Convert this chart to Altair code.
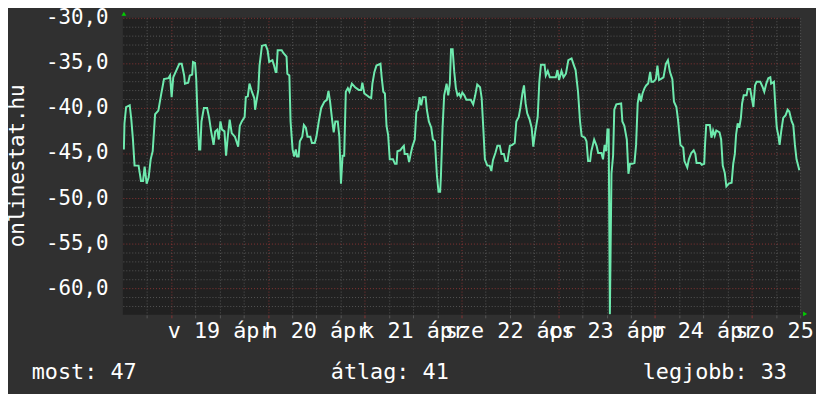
import altair as alt
import pandas as pd

# hours since 2020-04-18 00:00
hours = [
    12.25, 12.4, 12.8, 13.7, 14.1, 14.5, 14.9, 15.9, 16.5, 17.0,
    17.4, 17.9, 18.4, 18.9, 19.4, 20.0, 20.8, 21.5, 22.2, 23.3,
    23.7, 24.1, 24.5, 25.3, 26.0, 26.6, 27.2, 27.4, 28.2, 28.6,
    29.2, 29.4, 29.9, 30.2, 30.5, 30.9, 31.2, 31.5, 32.1, 32.9,
    33.4, 33.9, 34.5, 34.9, 35.4, 35.8, 36.2, 36.6, 37.2, 37.6,
    38.0, 38.5, 39.0, 39.8, 40.6, 41.0, 41.5, 42.2, 42.5, 43.0,
    43.4, 44.0, 44.6, 44.8, 45.2, 45.6, 45.9, 46.5, 47.4, 47.9,
    48.3, 49.1, 49.5, 49.9, 50.1, 50.4, 51.4, 51.8, 52.6, 52.8,
    53.3, 53.6, 54.1, 54.5, 54.9, 55.2, 55.6, 55.9, 56.5, 56.9,
    57.4, 57.8, 58.5, 58.9, 59.6, 60.0, 60.6, 61.2, 62.0, 62.6,
    63.0, 63.4, 63.9, 64.3, 64.7, 65.3, 65.7, 66.1, 66.5, 66.9,
    67.3, 67.8, 68.2, 68.8, 69.6, 70.5, 71.1, 71.4, 71.9, 72.5,
    73.1, 73.6, 73.9, 74.4, 74.9, 75.9, 76.2, 76.6, 77.0, 77.4,
    77.8, 78.2, 79.0, 79.5, 79.9, 80.1, 80.8, 81.3, 81.7, 81.9,
    82.6, 83.0, 83.4, 83.8, 84.4, 84.8, 85.2, 85.6, 86.0, 86.4,
    87.1, 87.4, 87.9, 88.5, 88.9, 89.4, 89.9, 90.3, 90.7, 90.9,
    91.3, 91.7, 92.3, 92.7, 93.1, 93.4, 93.8, 94.2, 94.6, 95.0,
    95.4, 95.8, 96.2, 96.7, 97.2, 98.3, 98.9, 99.4, 99.9, 100.6,
    101.0, 101.4, 101.8, 102.4, 103.0, 103.4, 103.8, 104.4, 104.9, 105.5,
    105.9, 106.5, 106.9, 107.4, 108.0, 108.6, 109.2, 109.6, 110.2, 110.6,
    111.1, 111.5, 111.9, 112.3, 112.9, 113.4, 113.8, 114.3, 114.9, 115.3,
    115.7, 116.6, 116.9, 117.4, 117.9, 119.4, 119.8, 120.2, 120.8, 121.3,
    121.9, 122.5, 123.3, 123.9, 124.3, 124.9, 125.4, 125.8, 126.6, 127.0,
    127.4, 127.9, 128.2, 128.9, 129.5, 129.9, 130.7, 131.1, 131.5, 131.9,
    132.2, 132.5, 132.8, 133.2, 133.6, 133.9, 134.4, 135.6, 135.9, 136.4,
    137.0, 137.4, 137.8, 138.3, 138.9, 139.3, 139.7, 140.1, 140.5, 140.9,
    141.4, 141.8, 142.3, 142.8, 143.1, 143.6, 144.2, 144.6, 145.0, 145.4,
    146.1, 146.7, 147.2, 147.7, 148.3, 148.7, 149.3, 149.7, 150.3, 151.0,
    151.3, 152.0, 152.4, 153.0, 153.6, 154.0, 154.3, 155.2, 155.6, 156.2,
    156.4, 156.7, 157.6, 158.0, 158.4, 158.8, 159.2, 160.0, 160.4, 160.8,
    161.3, 161.7, 162.3, 163.0, 163.4, 163.8, 164.1, 164.5, 164.9, 165.3,
    165.6, 166.0, 166.7, 167.0, 167.6, 168.0, 168.4, 168.8, 169.2, 170.1,
    170.7, 171.1, 171.6, 172.1, 172.6, 172.8, 173.5, 173.8, 174.2, 174.6,
    174.9, 175.3, 175.8, 176.4, 176.9, 177.3, 177.9, 178.3, 178.7, 179.1, 179.8,
]

dbm = [
    -44.6, -41.7, -39.9, -39.7, -41.3, -43.5, -46.4, -46.4, -48.1, -48.1,
    -46.5, -48.4, -47.7, -45.7, -44.8, -40.7, -40.3, -38.5, -36.8, -36.7,
    -36.4, -38.8, -36.6, -35.8, -35.1, -35.1, -36.4, -37.3, -37.2, -36.4,
    -36.3, -34.9, -35.0, -36.8, -40.7, -44.6, -44.6, -41.5, -40.0, -40.0,
    -41.1, -42.6, -44.1, -42.6, -42.4, -43.5, -41.5, -42.4, -42.6, -45.3,
    -43.3, -41.3, -42.8, -43.2, -44.3, -42.0, -41.5, -41.0, -38.8, -38.7,
    -37.3, -38.2, -38.9, -40.2, -39.1, -38.0, -35.3, -33.1, -33.0, -33.6,
    -34.9, -34.7, -35.3, -36.0, -36.0, -33.6, -33.6, -33.9, -34.3, -36.2,
    -36.4, -41.5, -44.6, -45.4, -44.6, -45.4, -45.4, -43.7, -43.2, -41.9,
    -42.2, -43.2, -43.2, -43.9, -43.9, -43.2, -41.5, -40.0, -39.3, -39.1,
    -38.1, -39.3, -41.3, -42.7, -41.5, -41.5, -43.2, -48.4, -45.3, -45.3,
    -38.2, -37.8, -38.2, -37.3, -37.7, -38.0, -38.0, -37.2, -38.4, -38.6,
    -38.8, -38.9, -37.3, -36.0, -35.3, -35.1, -36.6, -38.2, -38.4, -42.0,
    -43.0, -45.7, -45.7, -46.2, -46.2, -44.8, -44.7, -44.4, -44.2, -45.1,
    -45.1, -46.0, -45.1, -44.3, -43.5, -40.4, -40.2, -38.8, -39.7, -38.8,
    -38.8, -40.2, -41.5, -42.2, -43.5, -43.7, -47.5, -49.3, -49.3, -47.5,
    -42.2, -38.6, -37.3, -38.6, -37.3, -33.5, -33.5, -36.0, -37.8, -38.6,
    -38.4, -38.8, -38.3, -38.6, -39.1, -39.1, -39.6, -38.6, -37.4, -37.7,
    -38.9, -42.2, -45.7, -46.4, -46.4, -47.0, -45.8, -45.0, -44.2, -44.2,
    -45.1, -45.1, -45.9, -45.9, -44.2, -44.1, -43.9, -41.5, -41.0, -40.0,
    -38.4, -37.5, -39.5, -40.6, -41.3, -42.2, -44.3, -42.6, -41.0, -37.1,
    -35.2, -35.2, -36.4, -35.9, -36.6, -36.6, -35.8, -36.9, -35.9, -36.6,
    -36.2, -34.7, -34.5, -35.3, -35.8, -38.2, -41.5, -43.1, -43.3, -43.7,
    -45.9, -45.9, -44.8, -43.5, -44.2, -45.0, -45.0, -45.7, -44.1, -44.8,
    -42.4, -42.4, -62.9, -47.3, -45.3, -40.2, -39.6, -39.5, -41.5, -42.0,
    -43.5, -47.3, -46.2, -46.2, -46.1, -44.1, -39.5, -38.4, -39.3, -38.4,
    -37.8, -37.5, -37.3, -36.0, -37.1, -37.1, -36.8, -35.3, -36.9, -36.8,
    -36.6, -35.1, -34.7, -36.0, -36.8, -39.3, -39.9, -41.3, -44.1, -44.4,
    -45.9, -46.6, -45.7, -45.0, -44.7, -45.1, -46.1, -46.1, -46.3, -46.2,
    -44.1, -41.9, -41.9, -43.3, -42.5, -43.1, -42.5, -42.7, -43.5, -46.4,
    -47.2, -48.7, -48.4, -48.3, -46.2, -45.1, -43.0, -41.7, -42.2, -41.1,
    -39.5, -38.6, -38.6, -37.9, -37.9, -38.9, -39.9, -37.5, -37.1, -37.1,
    -37.7, -38.2, -37.3, -36.7, -36.6, -37.3, -37.1, -39.5, -42.2, -43.1,
    -44.1, -42.6, -41.1, -40.8, -40.2, -40.4, -41.5, -41.9, -44.1, -45.7, -46.9,
]

day_labels = ["v 19 ápr", "h 20 ápr", "k 21 ápr", "sze 22 ápr", "cs 23 ápr", "p 24 ápr", "szo 25 ápr"]
label_hours = [36, 60, 84, 108, 132, 156, 180]
summary_texts = ["most: 47", "átlag: 41", "legjobb: 33"]
y_title = "onlinestat.hu"

assert len(hours) == len(dbm)
df = pd.DataFrame({"h": hours, "v": dbm})
one_row = pd.DataFrame({"k": [0]})

FONT = "DejaVu Sans Mono"
FS = 22
WHITE = "#ffffff"
LINE = "#6eeaae"
GRID_MINOR = "#575757"
GRID_MAJOR = "#883434"
ARROW = "#00d000"

label_arr = "[" + ",".join("'" + t + "'" for t in day_labels) + "]"
first_label = label_hours[0]
x_label_expr = (
    f"(datum.value % 24 === 12 && datum.value >= {first_label}) ? "
    f"{label_arr}[(datum.value - {first_label}) / 24] : ''"
)

x_axis = alt.Axis(
    values=list(range(18, 181, 6)),
    grid=True,
    gridColor={"condition": {"test": "datum.value % 24 === 0", "value": GRID_MAJOR}, "value": GRID_MINOR},
    gridDash=[1, 2],
    gridWidth=1,
    domain=False,
    ticks=True,
    tickSize=3,
    tickColor={"condition": {"test": "datum.value % 24 === 0", "value": GRID_MAJOR}, "value": GRID_MINOR},
    labelExpr=x_label_expr,
    labelFont=FONT,
    labelFontSize=FS,
    labelFontWeight="normal",
    labelColor=WHITE,
    labelOverlap=False,
    labelFlush=False,
    labelBound=False,
    labelBaseline="alphabetic",
    labelPadding=20,
    title=None,
)

y_axis = alt.Axis(
    values=list(range(-62, -29)),
    grid=True,
    gridColor={"condition": {"test": "datum.value % 5 === 0", "value": GRID_MAJOR}, "value": GRID_MINOR},
    gridDash=[1, 2],
    gridWidth=1,
    domain=False,
    ticks=False,
    tickSize=0,
    labelExpr="datum.value % 5 === 0 ? datum.value + ',0' : ''",
    labelFont=FONT,
    labelFontSize=21,
    labelFontWeight="normal",
    labelColor=WHITE,
    labelPadding=15,
    labelOverlap=False,
    labelFlush=False,
    labelBound=False,
    title=y_title,
    titleFont=FONT,
    titleFontSize=21,
    titleFontWeight="normal",
    titleColor=WHITE,
    titleAngle=270,
    titleAlign="center",
    titleBaseline="alphabetic",
    titleX=-100,
    titleY=149,
)

line = alt.Chart(df).mark_line(color=LINE, strokeWidth=2, clip=True).encode(
    x=alt.X("h:Q", scale=alt.Scale(domain=[12, 180], nice=False, zero=False), axis=x_axis),
    y=alt.Y("v:Q", scale=alt.Scale(domain=[-62.96, -30], nice=False, zero=False), axis=y_axis),
)

arrow_up = alt.Chart(one_row).mark_point(shape="triangle-up", filled=True, color=ARROW, size=22, opacity=1).encode(
    x=alt.value(1), y=alt.value(-4)
)
arrow_right = alt.Chart(one_row).mark_point(shape="triangle-right", filled=True, color=ARROW, size=22, opacity=1).encode(
    x=alt.value(689), y=alt.value(299)
)

text_x = [-92, 210, 525]
texts = []
for t, xpos in zip(summary_texts, text_x):
    texts.append(
        alt.Chart(pd.DataFrame({"t": [t]})).mark_text(
            font=FONT, fontSize=FS, fontWeight="normal", color=WHITE, align="left", baseline="alphabetic"
        ).encode(x=alt.value(xpos), y=alt.value(365), text="t:N")
    )

chart = alt.layer(line, arrow_up, arrow_right, *texts).properties(
    width=684,
    height=300,
    autosize=alt.AutoSizeParams(type="none"),
    padding={"left": 116, "top": 8, "right": 16, "bottom": 78},
    background="#303030",
).configure_view(fill="#212121", strokeWidth=0)

chart.save("out.html", embed_options={"renderer": "svg", "actions": False})
